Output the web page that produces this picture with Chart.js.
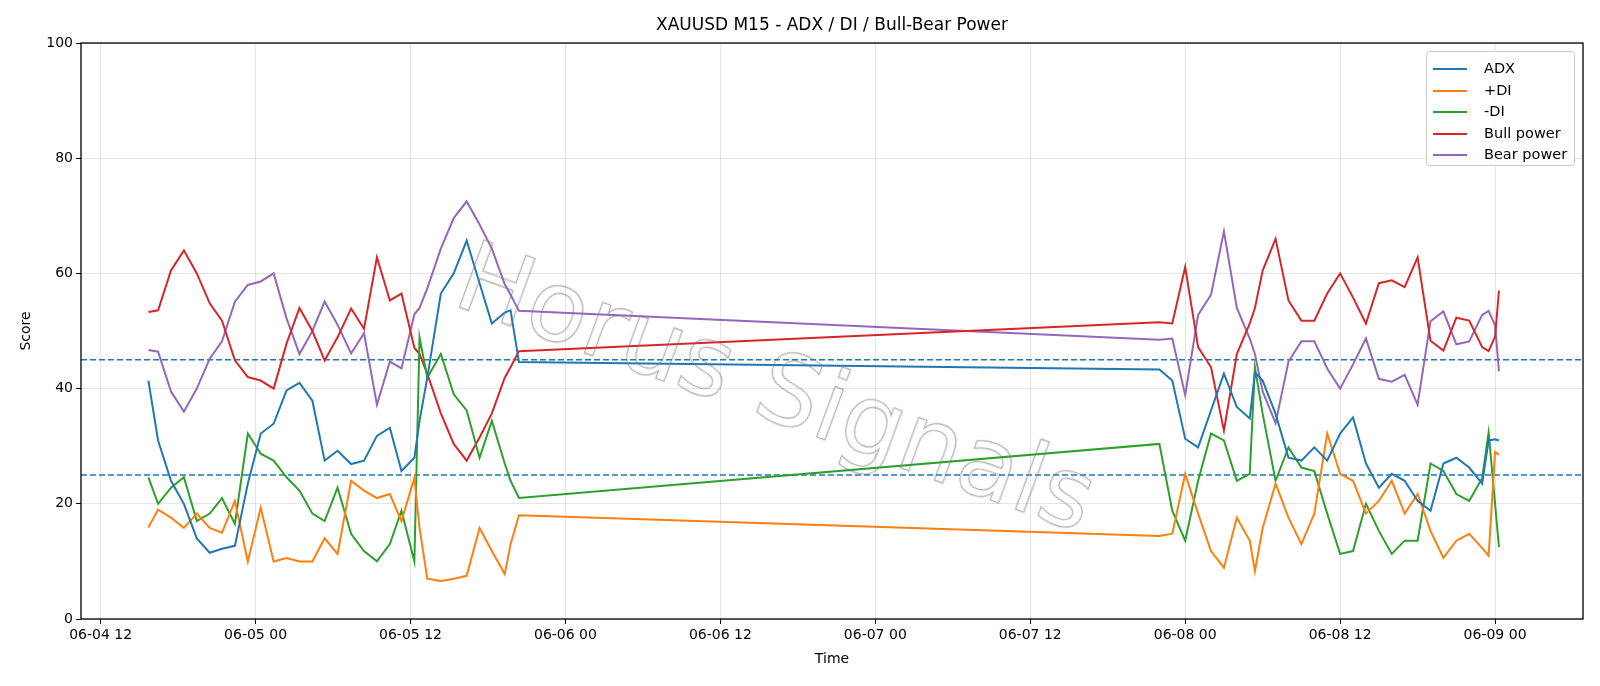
<!DOCTYPE html>
<html><head><meta charset="utf-8">
<script src="https://cdn.jsdelivr.net/npm/chart.js@4.4.1/dist/chart.umd.min.js"></script>
<style>
html,body{margin:0;padding:0;background:#fff;}
#wrap{position:relative;width:1600px;height:686px;font-family:"DejaVu Sans",sans-serif;}
#title{position:absolute;left:0;width:1664px;top:14px;text-align:center;font-size:17px;color:#000;}
#legend{position:absolute;left:1426px;top:51px;width:147px;height:113px;border:1px solid #ccc;border-radius:4px;background:rgba(255,255,255,0.8);font-size:14.5px;}
.li{position:absolute;left:6px;height:20px;line-height:20px;}
.li span.sw{position:absolute;left:0;top:10px;width:34px;height:2px;}
.li span.tx{position:absolute;left:51px;white-space:nowrap;}
#wm{position:absolute;left:462px;top:215px;font-size:98px;font-family:"DejaVu Sans",sans-serif;font-weight:normal;color:transparent;-webkit-text-stroke:1.3px rgba(120,120,120,0.55);transform:rotate(20deg);transform-origin:left center;white-space:nowrap;pointer-events:none;}
</style></head><body>
<div id="wrap">
<canvas id="c" width="1600" height="686"></canvas>
<div id="title">XAUUSD M15 - ADX / DI / Bull-Bear Power</div>
<div id="wm">Horus Signals</div>
<div id="legend"></div>
</div>
<script>
// hours since 06-04 00:00
const timesSeg1 = [15.7,16.45,17.45,18.45,19.45,20.45,21.4,22.4,23.4,24.4,25.4,26.4,27.4,28.4,29.35,30.35,31.4,32.4,33.4,34.4,35.3,36.3,36.7,37.3,38.35,39.35,40.35,41.35,42.3,43.3,43.75,44.4];
const timesSeg2 = [94,95,96,97,98,99,100,101,101.4,102,103,104,105,106,107,108,109,110,111,112,113,114,115,116,117,118,119,119.5,120,120.3];

const adx1 = [41.4,31,24,20,14,11.5,12.2,12.7,23.5,32.2,33.9,39.7,41,37.9,27.5,29.2,26.9,27.5,31.8,33.2,25.7,28,34.4,41.9,56.5,60,65.7,58.3,51.3,53.2,53.6,44.6];
const plusDI1 = [15.9,19,17.6,15.8,18.3,15.8,15,20.5,10,19.3,10,10.6,10,10,14,11.3,24,22.3,21,21.7,17,24.5,15.8,7,6.6,7,7.5,15.8,11.8,7.8,13,18];
const minusDI1 = [24.6,20,22.8,24.6,17,18.3,21,16.5,32.2,28.7,27.5,24.6,22.3,18.3,17,22.8,14.8,11.8,10,13,18.8,10,48.9,41.9,46,39,36.2,28,34.4,27,24,21];
const bull1 = [53.3,53.6,60.5,64,60,54.8,51.8,44.9,42,41.4,40,47.8,54,50,44.9,48.9,53.9,50.4,62.8,55.3,56.5,47.1,46,42.6,35.7,30.4,27.5,31.5,35.7,41.9,43.7,46.5];
const bear1 = [46.7,46.4,39.5,36,40,45.2,48.2,55.1,58,58.6,60,52.2,46,50,55.1,51.1,46.1,49.6,37.2,44.7,43.5,52.9,54,57.4,64.3,69.6,72.5,68.5,64.3,58.1,56.3,53.5];

const adx2 = [43.3,41.4,31.3,29.8,36.2,42.6,36.8,34.8,42.8,41.4,35.6,28,27.5,29.8,27.5,32.2,35,27,22.8,25.2,24,20.5,18.8,27,28,26.3,23.5,31,31.2,31];
const plusDI2 = [14.4,14.8,25.2,18.3,11.8,8.9,17.6,13.6,8.3,15.8,23.5,17.6,13,18.3,32.2,25.2,24,18.3,20.5,24,18.3,21.7,15.3,10.6,13.6,14.8,12.3,11,29,28.5];
const minusDI2 = [30.4,18.8,13.6,24,32.2,31,24,25.2,43.7,35.6,24,29.8,26.3,25.7,18.3,11.3,11.8,20,15.3,11.3,13.6,13.6,27,25.7,21.7,20.5,24.5,32.4,20,12.5];
const bull2 = [51.5,51.3,61.1,47.2,43.7,32.7,46,51.3,54,60.5,66,55.3,51.8,51.8,56.5,60,55.8,51.3,58.3,58.8,57.6,62.8,48.3,46.6,52.3,51.8,47.2,46.5,49,57];
const bear2 = [48.5,48.7,38.9,52.8,56.3,67.3,54,48.7,46,39.5,34,44.7,48.2,48.2,43.5,40,44.2,48.7,41.7,41.2,42.4,37.2,51.7,53.4,47.7,48.2,52.8,53.5,51,43];

const xTicks = [12,24,36,48,60,72,84,96,108,120];
const xTickLabels = ['06-04 12','06-05 00','06-05 12','06-06 00','06-06 12','06-07 00','06-07 12','06-08 00','06-08 12','06-09 00'];
const thresholds = [25,45];
const xMin = 10.48, xMax = 126.81;

const seriesNames = ['ADX','+DI','-DI','Bull power','Bear power'];
const colors = ['#1f77b4','#ff7f0e','#2ca02c','#d62728','#9467bd'];
const seg1 = [adx1,plusDI1,minusDI1,bull1,bear1];
const seg2 = [adx2,plusDI2,minusDI2,bull2,bear2];

function pts(a,b){
  const out=[];
  timesSeg1.forEach((t,i)=>out.push({x:t,y:a[i]}));
  timesSeg2.forEach((t,i)=>out.push({x:t,y:b[i]}));
  return out;
}
const datasets = seriesNames.map((n,i)=>({label:n,data:pts(seg1[i],seg2[i]),borderColor:colors[i],borderWidth:2,pointRadius:0,tension:0,fill:false}));
thresholds.forEach(v=>datasets.push({label:'thr'+v,data:[{x:xMin,y:v},{x:xMax,y:v}],borderColor:'#1f77b4',borderWidth:1.4,borderDash:[6,3],pointRadius:0}));

const frame = {id:'frame',afterDatasetsDraw(ch){const a=ch.chartArea,c=ch.ctx;c.save();c.strokeStyle='#000';c.lineWidth=1.3;c.strokeRect(a.left,a.top,a.right-a.left,a.bottom-a.top);c.restore();}};

new Chart(document.getElementById('c'),{
  type:'line',
  data:{datasets},
  options:{
    responsive:false,animation:false,
    layout:{padding:{left:14,right:17,top:43,bottom:18}},
    plugins:{legend:{display:false},tooltip:{enabled:false}},
    scales:{
      x:{type:'linear',min:xMin,max:xMax,
        afterBuildTicks(s){s.ticks=xTicks.map(v=>({value:v}));},
        afterFit(s){s.height=49;},
        ticks:{autoSkip:false,maxRotation:0,color:'#000',font:{family:'DejaVu Sans',size:14},padding:3,
          callback(v){const i=xTicks.indexOf(v);return i>=0?xTickLabels[i]:'';}},
        grid:{color:'rgba(0,0,0,0.1)',tickColor:'#000',tickLength:5,drawTicks:true},
        border:{display:false},
        title:{display:true,text:'Time',color:'#000',font:{family:'DejaVu Sans',size:14},padding:{top:0,bottom:0}}},
      y:{min:0,max:100,
        afterFit(s){s.width=67;},
        ticks:{stepSize:20,color:'#000',font:{family:'DejaVu Sans',size:14},padding:3},
        grid:{color:'rgba(0,0,0,0.1)',tickColor:'#000',tickLength:5},
        border:{display:false},
        title:{display:true,text:'Score',color:'#000',font:{family:'DejaVu Sans',size:14},padding:{bottom:4}}}
    }
  },
  plugins:[frame]
});

const lg=document.getElementById('legend');
seriesNames.forEach((n,i)=>{
  const d=document.createElement('div');d.className='li';d.style.top=(6+i*21.5)+'px';
  d.innerHTML='<span class="sw" style="background:'+colors[i]+'"></span><span class="tx">'+n+'</span>';
  lg.appendChild(d);
});
</script>
</body></html>
